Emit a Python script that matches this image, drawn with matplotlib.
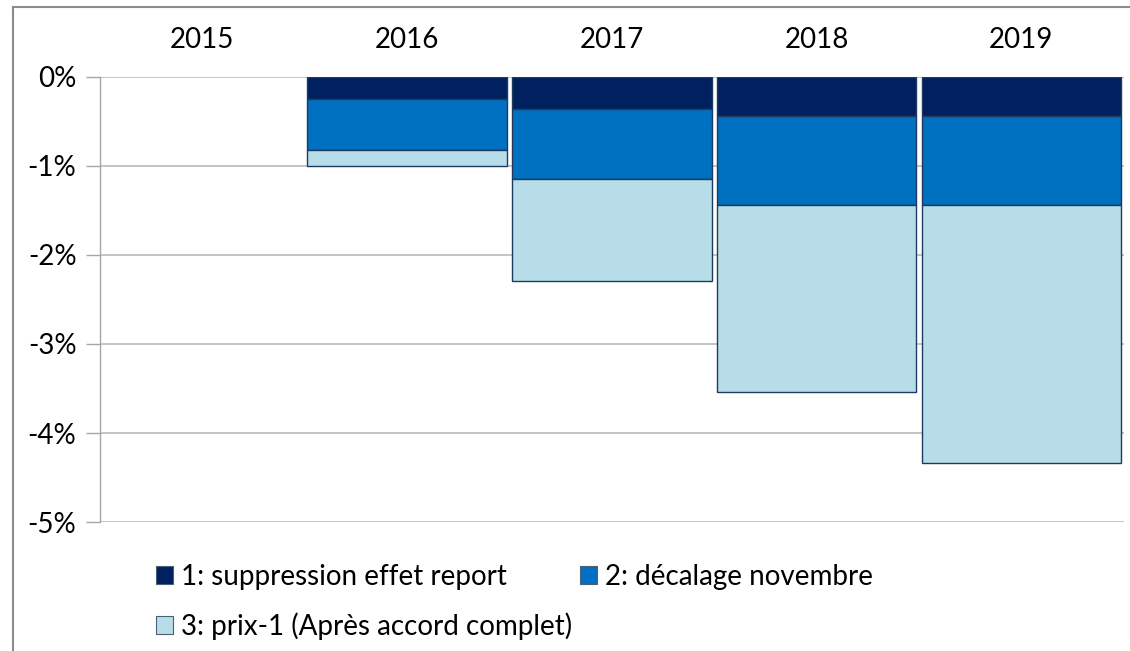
import numpy as np
import matplotlib.pyplot as plt
from matplotlib.lines import Line2D
from matplotlib.patches import Patch

plt.rcParams['font.family'] = ['Lato', 'DejaVu Sans']

# Données (en %)
annees = ['2015', '2016', '2017', '2018', '2019']
suppression = [0.0, -0.25, -0.36, -0.44, -0.44]
decalage = [0.0, -0.57, -0.79, -1.00, -1.00]
prix = [0.0, -0.18, -1.14, -2.10, -2.90]
noms = ['1: suppression effet report', '2: décalage novembre',
        '3: prix-1 (Après accord complet)']
couleurs = ['#002060', '#0070C0', '#B7DEE8']
y_ticks = [0, -1, -2, -3, -4, -5]

fig = plt.figure(figsize=(11.3, 6.51), dpi=100)
ax = fig.add_axes([0.0885, 0.198, 0.906, 0.684])

x = np.arange(len(annees))
bas = np.zeros(len(annees))
for serie, nom, c in zip([suppression, decalage, prix], noms, couleurs):
    vals = np.array(serie)
    lw = [0 if v == 0 else 1.0 for v in vals]  # pas de contour pour 2015
    ax.bar(x, vals, bottom=bas, width=0.975, color=c, edgecolor='#1F3A5F',
           linewidth=lw, label=nom, zorder=3)
    bas = bas + vals

ax.set_xlim(-0.5, len(annees) - 0.5)
ax.set_ylim(-5, 0)
ax.set_yticks(y_ticks)
ax.set_yticklabels([f'{v}%' for v in y_ticks])
ax.yaxis.grid(True, color='#BFBFBF', linewidth=1.3, zorder=0)
ax.set_axisbelow(True)

ax.xaxis.tick_top()
ax.set_xticks(x)
ax.set_xticklabels(annees)
ax.tick_params(axis='x', length=0, pad=17, labelsize=20)
ax.tick_params(axis='y', length=10, width=1.0, color='#A6A6A6', pad=7, labelsize=20)

for s in ['top', 'right', 'bottom']:
    ax.spines[s].set_visible(False)
ax.spines['left'].set_color('#A6A6A6')
ax.spines['left'].set_linewidth(1.0)

# Légende : 1 et 2 sur la première ligne, 3 en dessous
poignees = [Patch(facecolor=c, edgecolor='#4A6076', linewidth=0.8) for c in couleurs]
opts = dict(frameon=False, fontsize=20, handlelength=0.6, handleheight=0.6,
            handletextpad=0.3, borderaxespad=0, borderpad=0, loc='center left')
fig.legend(poignees[:2], noms[:2], ncol=2, columnspacing=2.65,
           bbox_to_anchor=(0.138, 1 - 577 / 651), **opts)
fig.legend(poignees[2:], noms[2:], bbox_to_anchor=(0.138, 1 - 626 / 651), **opts)

# Cadre
fig.add_artist(Line2D([13 / 1130, 13 / 1130], [0, 1 - 7 / 651],
                      color='#8C8C8C', linewidth=1.5, transform=fig.transFigure))
fig.add_artist(Line2D([13 / 1130, 1], [1 - 7 / 651, 1 - 7 / 651],
                      color='#8C8C8C', linewidth=1.5, transform=fig.transFigure))

fig.savefig('out.png', dpi=100)
